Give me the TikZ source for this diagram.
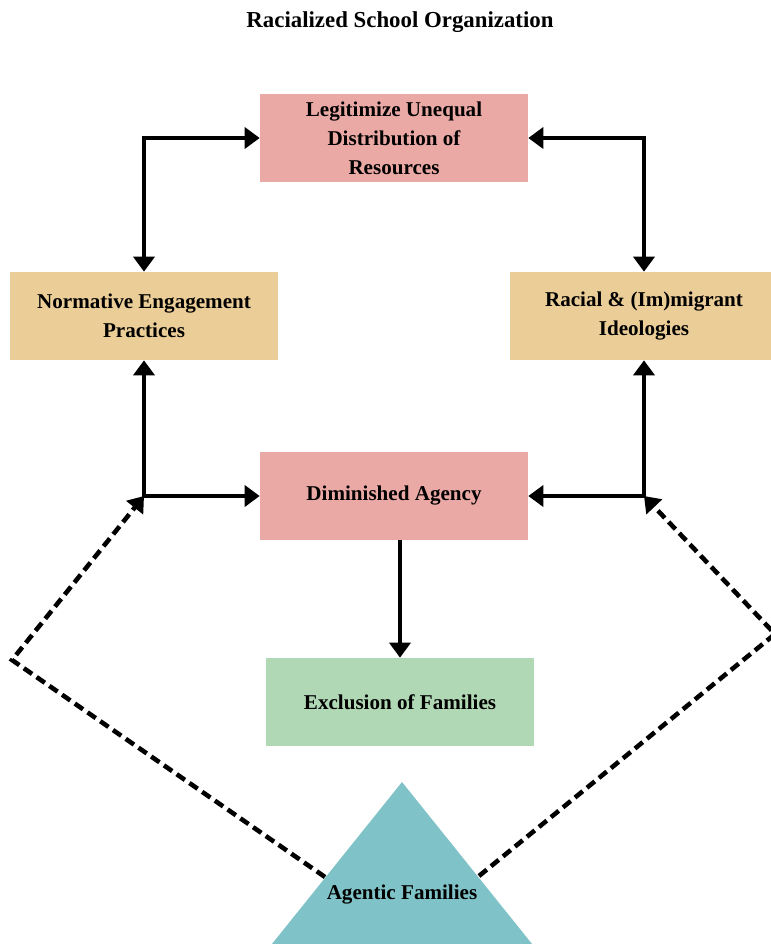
\documentclass[tikz,border=0pt]{standalone}
\usepackage{fontspec}
\setmainfont{Liberation Serif}
\usetikzlibrary{arrows.meta}

\definecolor{pinkbox}{HTML}{EBA9A6}
\definecolor{tanbox}{HTML}{EBCD97}
\definecolor{greenbox}{HTML}{B1D8B4}
\definecolor{tealtri}{HTML}{7FC3C8}

\begin{document}
\begin{tikzpicture}[x=0.02cm,y=-0.02cm,
labeltext/.style ={font=\bfseries\fontsize{12}{16.5}\selectfont, align=center},
box/.style ={rectangle, labeltext, minimum width=5.36cm,
  minimum height=1.76cm, inner sep=0pt
},
link/.style ={line width=2.6pt, {Triangle[length=3mm,width=4.2mm]}-{Triangle[length=3mm,width=4.2mm]}},
fwd/.style ={line width=2.6pt, -{Triangle[length=3mm,width=4.2mm]}},
hint/.style ={line width=2.6pt, dash pattern=on 0.2cm off 0.11cm, -{Triangle[length=3mm,width=4.2mm]}}
]
\useasboundingbox (0,0) rectangle (771,944);
\clip (0,0) rectangle (771,944);

\node (title) at (400,22) [labeltext, font=\bfseries\fontsize{13}{16}\selectfont] {Racialized School Organization};

\node (legit) at (394,138) [box, fill=pinkbox] {Legitimize Unequal\\Distribution of\\Resources};
\node (norm) at (144,316) [box, fill=tanbox] {Normative Engagement\\Practices};
\node (racial) at (644,316) [box, fill=tanbox] {Racial \& (Im)migrant\\Ideologies};
\node (dim) at (394,496) [box, fill=pinkbox] {Diminished Agency};
\node (excl) at (400,702) [box, fill=greenbox] {Exclusion of Families};

% agentic families triangle
\fill[tealtri] (402,782) -- (577,1000) -- (227,1000) -- cycle;
\node (fam) at (402,895) [labeltext] {Agentic Families};
\coordinate (famL) at (325,877);
\coordinate (famR) at (479,876);

\coordinate (lj) at (norm.south |- dim.west);
\coordinate (rj) at (racial.south |- dim.east);
\coordinate (lbend) at (12,660);
\coordinate (rbend) at (775,634);

\draw[link] (norm.north) |- (legit.west);
\draw[link] (racial.north) |- (legit.east);
\draw[link] (norm.south) |- (dim.west);
\draw[link] (racial.south) |- (dim.east);
\draw[fwd] (dim.south -| excl.north) -- (excl.north);

\draw[hint] (famL) -- (lbend) -- (lj);
\draw[hint] (famR) -- (rbend) -- (rj);
\end{tikzpicture}
\end{document}
